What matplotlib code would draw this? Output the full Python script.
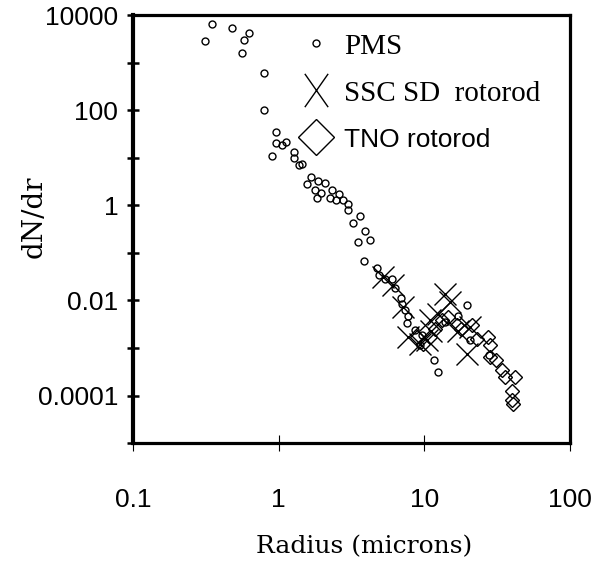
import matplotlib
matplotlib.use("Agg")
import matplotlib.pyplot as plt
from matplotlib.lines import Line2D
from matplotlib.path import Path

# PMS probe (open circles)
pms_r = [0.312, 0.347, 0.481, 0.578, 0.628, 0.560, 0.80, 0.80, 0.953, 0.957,
         1.05, 1.117, 0.895, 1.27, 1.28, 1.38, 1.45, 1.68, 1.86, 1.56,
         2.09, 1.77, 1.94, 1.82, 2.31, 2.58, 2.25, 2.47, 2.77, 2.98,
         3.0, 3.61, 3.25, 3.91, 4.23, 3.52, 3.87, 4.75, 4.90, 5.37,
         5.97, 6.29, 6.91, 6.98, 7.36, 7.75, 7.65, 8.61, 9.57, 9.33,
         11.7, 12.5, 13.8, 17.1, 19.5, 28.0, 20.6]
pms_n = [2880, 6460, 5460, 3080, 4240, 1585, 616, 103, 35, 20.5,
         18.3, 21.5, 10.9, 13.4, 9.8, 6.95, 7.55, 3.94, 3.28, 2.86,
         2.9, 2.1, 1.79, 1.40, 2.07, 1.76, 1.45, 1.32, 1.27, 1.09,
         0.80, 0.60, 0.42, 0.284, 0.183, 0.169, 0.067, 0.048, 0.0336, 0.0277,
         0.0277, 0.0185, 0.0114, 0.0085, 0.0062, 0.0046, 0.0034, 0.0024, 0.0019, 0.00113,
         0.00057, 0.00032, 0.0035, 0.0048, 0.0079, 0.0007, 0.00144]

# SSC SD rotorod (crosses)
ssc_r = [5.22, 6.12, 7.16, 7.75, 9.33, 10.4, 11.2, 10.9, 12.4, 13.8, 15.0, 17.1, 19.5, 20.6]
ssc_n = [0.031, 0.0207, 0.0072, 0.00169, 0.00122, 0.00144, 0.00233, 0.0038, 0.0052,
         0.0138, 0.0092, 0.00233, 0.00076, 0.00274]

# TNO rotorod (diamonds)
tno_r = [8.85, 9.84, 10.9, 11.8, 13.2, 14.6, 16.7, 18.0, 21.1, 22.9,
         27.5, 28.2, 28.2, 31.3, 34.0, 35.7, 41.9, 39.7, 40.7, 40.0]
tno_n = [0.00169, 0.00122, 0.00169, 0.0025, 0.0038, 0.0044, 0.003, 0.0025, 0.003, 0.00156,
         0.00169, 0.00113, 0.00064, 0.00055, 0.00034, 0.00024, 0.00024, 0.000127, 0.0000668, 0.00008]

y_ticks = [1e-5, 1e-4, 1e-3, 1e-2, 1e-1, 1, 10, 100, 1e3, 1e4]
y_labels = ["", "0.0001", "", "0.01", "", "1", "", "100", "", "10000"]
x_ticks = [0.1, 1, 10, 100]
x_labels = ["0.1", "1", "10", "100"]

fig = plt.figure(figsize=(6.07, 5.63), dpi=100)
ax = fig.add_axes([0.219, 0.213, 0.72, 0.76])

ax.plot(pms_r, pms_n, "o", ms=5, mfc="none", mec="black", mew=1.0, ls="none")
ax.plot(ssc_r, ssc_n, "x", ms=16, mec="black", mew=1.0, ls="none")
ax.plot(tno_r, tno_n, "D", ms=7, mfc="none", mec="black", mew=1.0, ls="none")

ax.set_xscale("log"); ax.set_yscale("log")
ax.set_xlim(0.1, 100); ax.set_ylim(1e-5, 1e4)
ax.minorticks_off()
ax.set_xticks(x_ticks, x_labels, fontsize=19, family="Liberation Sans")
ax.set_yticks(y_ticks, y_labels, fontsize=19, family="Liberation Sans")
ax.tick_params(axis="y", direction="inout", length=9, width=1.8, pad=6)
ax.tick_params(axis="x", direction="inout", length=12, width=0.8, pad=26)
for s in ax.spines.values():
    s.set_linewidth(2.3)
ax.spines["left"].set_linewidth(3.0)

ax.set_xlabel("Radius (microns)", fontsize=18, family="DejaVu Serif")
ax.xaxis.set_label_coords(0.53, -0.215)
ax.set_ylabel("dN/dr", fontsize=20, family="DejaVu Serif")
ax.yaxis.set_label_coords(-0.195, 0.528)

# tall X for the legend
tall_x = Path([(-0.7, -1), (0.7, 1), (-0.7, 1), (0.7, -1)],
              [Path.MOVETO, Path.LINETO, Path.MOVETO, Path.LINETO])
handles = [
    Line2D([], [], marker="o", ls="none", ms=5, mfc="none", mec="black", mew=1.0),
    Line2D([], [], marker=tall_x, ls="none", ms=24, mec="black", mew=1.0),
    Line2D([], [], marker="D", ls="none", ms=18, mfc="none", mec="black", mew=1.0),
]
leg = ax.legend(handles, ["PMS", "SSC SD  rotorod", "TNO rotorod"],
                loc="upper left", bbox_to_anchor=(0.353, 0.985), frameon=False,
                handlelength=1.2, handletextpad=0.35, labelspacing=0.7,
                borderaxespad=0, prop={"size": 21})
for t, fam in zip(leg.get_texts(), ["Liberation Serif", "Liberation Serif", "Liberation Sans"]):
    t.set_family(fam)
leg.get_texts()[2].set_fontsize(19)

fig.savefig("out.png", dpi=100)
